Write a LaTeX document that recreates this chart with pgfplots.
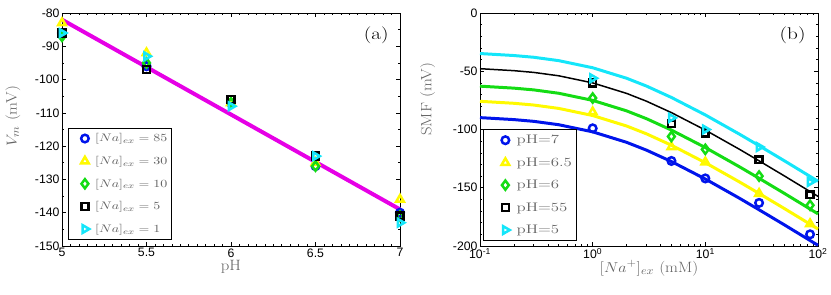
\documentclass[border=0pt]{standalone}
\usepackage{fontspec}
\usepackage{graphicx}
\usepackage{pgfplots}
\pgfplotsset{compat=1.18}
\newfontfamily\tickfont{Liberation Sans}
\definecolor{mblue}{RGB}{0,20,235}
\definecolor{myellow}{RGB}{255,250,0}
\definecolor{mgreen}{RGB}{20,220,20}
\definecolor{mcyan}{RGB}{20,230,250}
\definecolor{mmag}{RGB}{230,0,230}
\definecolor{labgray}{RGB}{100,100,100}
\newcommand{\sx}[2][1.3]{\scalebox{#1}[1]{#2}}
\pgfplotsset{
  common/.style={
    scale only axis, width=338bp, height=233bp,
    axis line style={line width=1pt},
    tick align=inside, tick pos=both,
    major tick length=4bp, minor tick length=2bp,
    every tick/.style={black, line width=0.6pt},
    ticklabel style={font=\tickfont\fontsize{12.3}{14}\selectfont},
    xticklabel style={yshift=1bp},
    yticklabel style={xshift=1bp},
    /pgf/number format/assume math mode=true,
    label style={font=\fontsize{15}{17}\selectfont, text=labgray},
    legend cell align=left,
    legend style={draw=black, line width=1.2pt, text=labgray},
  },
  mk/.style={only marks, line width=2.5pt, mark size=3.8pt, mark options={solid, fill=none}},
  imgA/.style={legend image code/.code={\path (-12.5bp,0bp) (7bp,0bp); \draw[##1] plot coordinates {(0bp,0bp)};}},
  imgB/.style={legend image code/.code={\path (-18bp,0bp) (8bp,0bp); \draw[##1] plot coordinates {(0bp,0bp)};}},
}
\begin{document}
\begin{tikzpicture}
\useasboundingbox (-62bp,-49bp) rectangle (769bp,246bp);
\begin{axis}[common, at={(0,0)}, anchor=south west,
  xmin=5, xmax=7, ymin=-150, ymax=-80,
  xtick={5,5.5,6,6.5,7}, xticklabels={5,5.5,6,6.5,7},
  ytick={-150,-140,...,-80},
  minor x tick num=9, minor y tick num=1,
  xlabel={\sx[1.12]{pH}}, ylabel={\sx[1.12]{$V_m$ (mV)}},
  xlabel style={at={(axis description cs:0.5,0)}, anchor=base, yshift=-24.5bp},
  ylabel style={at={(axis description cs:-0.145,0.557)}, anchor=center, rotate=0},
  legend style={at={(0.018,0.026)}, anchor=south west,
     font=\fontsize{11}{12}\selectfont, inner xsep=2.5pt, inner ysep=3.5pt,
     column sep=0pt, row sep=9pt},
  clip=false]
\addplot[mmag, line width=4pt, forget plot] coordinates {(5,-82) (7,-139)};
\addplot[mk, imgA, mblue, mark=o] coordinates {(5,-86) (5.5,-96) (6,-107) (6.5,-126) (7,-140)};
\addplot[mk, imgA, myellow, mark=triangle, mark size=4.4pt] coordinates {(5,-83) (5.5,-92) (6,-107) (6.5,-125) (7,-136)};
\addplot[mk, imgA, mgreen, mark=diamond, mark size=4.6pt] coordinates {(5,-87) (5.5,-95) (6,-107) (6.5,-126) (7,-141)};
\addplot[mk, imgA, black, mark=square, mark size=3.4pt] coordinates {(5,-86) (5.5,-97) (6,-106) (6.5,-123) (7,-141)};
\addplot[mk, imgA, mcyan, mark=triangle, mark size=4.4pt, mark options={rotate=-90}] coordinates {(5,-86) (5.5,-93) (6,-108) (6.5,-123) (7,-143)};
\legend{\sx[1.28]{$[Na]_{ex}=85$}, \sx[1.28]{$[Na]_{ex}=30$}, \sx[1.28]{$[Na]_{ex}=10$}, \sx[1.28]{$[Na]_{ex}=5$}, \sx[1.28]{$[Na]_{ex}=1$}}
\node[font=\fontsize{17}{19}\selectfont] at (rel axis cs:0.93,0.905) {\sx[1.25]{(a)}};
\end{axis}
\begin{axis}[common, at={(418bp,0)}, anchor=south west,
  xmode=log, xmin=0.1, xmax=100, ymin=-200, ymax=0,
  xtick={0.1,1,10,100},
  xticklabels={10\textsuperscript{-1},10\textsuperscript{0},10\textsuperscript{1},10\textsuperscript{2}},
  ytick={-200,-150,...,0},
  minor y tick num=4,
  xlabel={\sx[1.12]{$[Na^{+}]_{ex}$ (mM)}}, ylabel={\sx[1.12]{SMF (mV)}},
  xlabel style={at={(axis description cs:0.5,0)}, anchor=base, yshift=-26bp},
  ylabel style={at={(axis description cs:-0.155,0.63)}, anchor=center, rotate=0},
  legend style={at={(0.009,0.021)}, anchor=south west,
     font=\fontsize{12.5}{13.5}\selectfont, inner xsep=2.5pt, inner ysep=3.5pt,
     column sep=0pt, row sep=8.5pt},
  clip=false]
\addplot[mk, imgB, mblue, mark=o] coordinates {(1,-99) (5,-127) (10,-142) (30,-163) (85,-190)};
\addplot[mk, imgB, myellow, mark=triangle, mark size=4.4pt] coordinates {(1,-85) (5,-115) (10,-128) (30,-155) (85,-181)};
\addplot[mk, imgB, mgreen, mark=diamond, mark size=4.6pt] coordinates {(1,-73) (5,-106) (10,-117) (30,-140) (85,-165)};
\addplot[mk, imgB, black, mark=square, mark size=3.4pt] coordinates {(1,-60) (5,-95) (10,-103) (30,-126) (85,-156)};
\addplot[mk, imgB, mcyan, mark=triangle, mark size=4.4pt, mark options={rotate=-90}] coordinates {(1,-56) (5,-90) (10,-100) (30,-115) (85,-145)};
\legend{\sx[1.35]{pH=7}, \sx[1.35]{pH=6.5}, \sx[1.35]{pH=6}, \sx[1.35]{pH=55}, \sx[1.35]{pH=5}}
\addplot[mblue, line width=3pt, forget plot] coordinates {(0.1,-89.8) (0.2,-91.5) (0.3,-93.0) (0.5,-95.9) (1,-102.0) (2,-111.0) (3,-117.7) (5,-127.5) (10,-142.5) (20,-158.9) (30,-168.9) (50,-181.7) (100,-199.4)};
\addplot[myellow, line width=3pt, forget plot] coordinates {(0.1,-75.8) (0.2,-77.5) (0.3,-79.0) (0.5,-81.9) (1,-88.0) (2,-97.0) (3,-103.7) (5,-113.5) (10,-128.5) (20,-144.9) (30,-154.9) (50,-167.7) (100,-185.4)};
\addplot[mgreen, line width=3pt, forget plot] coordinates {(0.1,-62.8) (0.2,-64.5) (0.3,-66.0) (0.5,-68.9) (1,-75.0) (2,-84.0) (3,-90.7) (5,-100.5) (10,-115.5) (20,-131.9) (30,-141.9) (50,-154.7) (100,-172.4)};
\addplot[black, line width=1.5pt, forget plot] coordinates {(0.1,-47.8) (0.2,-49.5) (0.3,-51.0) (0.5,-53.9) (1,-60.0) (2,-69.0) (3,-75.7) (5,-85.5) (10,-100.5) (20,-116.9) (30,-126.9) (50,-139.7) (100,-157.4)};
\addplot[mcyan, line width=3pt, forget plot] coordinates {(0.1,-34.8) (0.2,-36.5) (0.3,-38.0) (0.5,-40.9) (1,-47.0) (2,-56.0) (3,-62.7) (5,-72.5) (10,-87.5) (20,-103.9) (30,-113.9) (50,-126.7) (100,-144.4)};
\node[font=\fontsize{17}{19}\selectfont] at (rel axis cs:0.925,0.905) {\sx[1.25]{(b)}};
\end{axis}
\end{tikzpicture}
\end{document}
